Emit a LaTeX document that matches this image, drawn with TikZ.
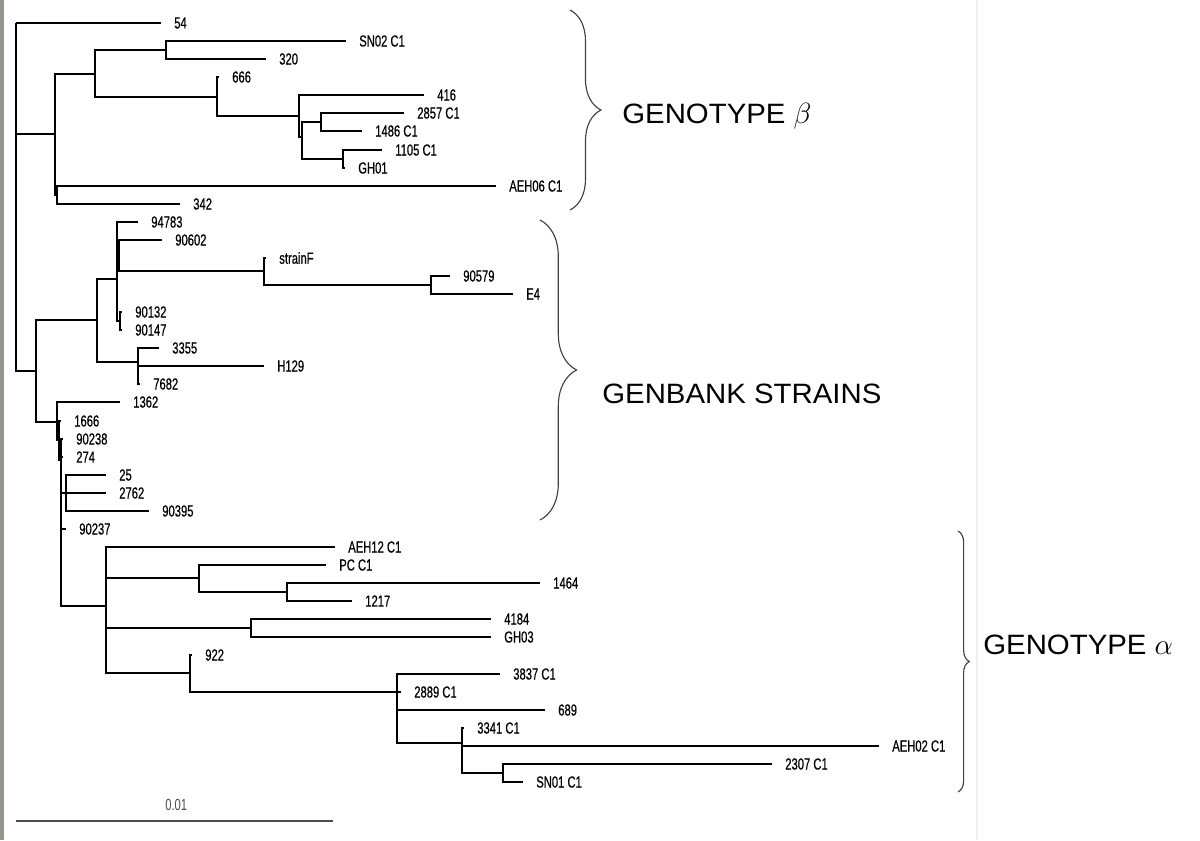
\documentclass[tikz,border=0pt]{standalone}
\usepackage{fontspec}
\usepackage{amsmath, amssymb}
\usetikzlibrary{positioning,decorations.pathreplacing}
\newfontfamily\leaffont[FakeStretch=0.7, FakeBold=0.5]{Liberation Sans}
\newfontfamily\barfont[FakeStretch=0.7]{Liberation Sans}
\newfontfamily\groupfont[FakeStretch=1.05]{Liberation Sans}
\definecolor{framegray}{RGB}{150,150,142}
\tikzset{
  branch/.style={line width=1.42pt},
  leaf/.style={font=\leaffont\fontsize{11.4}{13}\selectfont, inner sep=0pt},
  group/.style={font=\groupfont\fontsize{19.9}{23}\selectfont, inner sep=0pt, anchor=west},
  gbrace/.style={decorate, decoration={brace, amplitude=#1}, line width=0.8pt, draw=black!75},
  scalebar/.style={line width=1.42pt, draw=black!70}
}

\begin{document}
\begin{tikzpicture}[x=0.025cm, y=-0.025cm, node distance=9.25pt]
\useasboundingbox (0,0) rectangle (1200,840);
\fill[framegray] (0,0) rectangle (4,840);
\fill[black!6] (976,0) rectangle (978,840);

%beta
\coordinate (root) at (16,23);
\coordinate (b1) at (55,134);
\coordinate (b2) at (95,74);
\coordinate (b3) at (166,50);
\coordinate (b4) at (217,97);
\coordinate (b5) at (299,116);
\coordinate (b6) at (302,137);
\coordinate (b7) at (321,122);
\coordinate (b8) at (343,159);
\coordinate (b9) at (57,195);
\coordinate (l54) at (161,23);
\coordinate (lSN02) at (346,41);
\coordinate (l320) at (266,59);
\coordinate (l666) at (219,77);
\coordinate (l416) at (424,95);
\coordinate (l2857) at (404,113);
\coordinate (l1486) at (362,131);
\coordinate (l1105) at (382,150);
\coordinate (lGH01) at (345,168);
\coordinate (lAEH06) at (496,186);
\coordinate (l342) at (180,204);
\draw[branch]
  (root) -- (l54)
  (root) |- (b1)
  (b1) |- (b2) (b1) |- (b9)
  (b2) |- (b3) (b2) |- (b4)
  (b3) |- (lSN02) (b3) |- (l320)
  (b4) |- (l666) (b4) |- (b5)
  (b5) |- (l416) (b5) |- (b6)
  (b6) |- (b7) (b6) |- (b8)
  (b7) |- (l2857) (b7) |- (l1486)
  (b8) |- (l1105) (b8) |- (lGH01)
  (b9) |- (lAEH06) (b9) |- (l342);
\node[leaf, right=of l54] (t54) {54};
\node[leaf, right=of lSN02] (tSN02) {SN02 C1};
\node[leaf, right=of l320] (t320) {320};
\node[leaf, right=of l666] (t666) {666};
\node[leaf, right=of l416] (t416) {416};
\node[leaf, right=of l2857] (t2857) {2857 C1};
\node[leaf, right=of l1486] (t1486) {1486 C1};
\node[leaf, right=of l1105] (t1105) {1105 C1};
\node[leaf, right=of lGH01] (tGH01) {GH01};
\node[leaf, right=of lAEH06] (tAEH06) {AEH06 C1};
\node[leaf, right=of l342] (t342) {342};

%genbank
\coordinate (g0) at (36,371);
\coordinate (g1) at (97,320);
\coordinate (g2) at (117,279);
\coordinate (g3) at (119,256);
\coordinate (g4) at (264,271);
\coordinate (g5) at (431,285);
\coordinate (g6) at (120,321);
\coordinate (g7) at (138,362);
\coordinate (g8) at (57,422);
\coordinate (g9) at (59,440);
\coordinate (g10) at (61,460);
\coordinate (g11) at (66,493);
\coordinate (l94783) at (138,222);
\coordinate (l90602) at (162,240);
\coordinate (lstrainF) at (266,258);
\coordinate (l90579) at (450,276);
\coordinate (lE4) at (513,294);
\coordinate (l90132) at (122,312);
\coordinate (l90147) at (122,330);
\coordinate (l3355) at (159,348);
\coordinate (lH129) at (264,366);
\coordinate (l7682) at (140,384);
\coordinate (l1362) at (120,402);
\coordinate (l1666) at (61,421);
\coordinate (l90238) at (63,439);
\coordinate (l274) at (63,457);
\coordinate (l25) at (106,475);
\coordinate (l2762) at (106,493);
\coordinate (l90395) at (149,511);
\coordinate (l90237) at (66,529);
\draw[branch]
  (root) |- (g0)
  (g0) |- (g1) (g0) |- (g8)
  (g1) |- (g2) (g1) |- (g7)
  (g2) |- (l94783) (g2) |- (g3) (g2) |- (g6)
  (g3) |- (l90602) (g3) |- (g4)
  (g4) |- (lstrainF) (g4) |- (g5)
  (g5) |- (l90579) (g5) |- (lE4)
  (g6) |- (l90132) (g6) |- (l90147)
  (g7) |- (l3355) (g7) |- (lH129) (g7) |- (l7682)
  (g8) |- (l1362) (g8) |- (g9)
  (g9) |- (l1666) (g9) |- (g10)
  (g10) |- (l90238) (g10) |- (l274) (g10) |- (g11) (g10) |- (l90237)
  (g11) |- (l25) (g11) |- (l2762) (g11) |- (l90395);
\node[leaf, right=of l94783] (t94783) {94783};
\node[leaf, right=of l90602] (t90602) {90602};
\node[leaf, right=of lstrainF] (tstrainF) {strainF};
\node[leaf, right=of l90579] (t90579) {90579};
\node[leaf, right=of lE4] (tE4) {E4};
\node[leaf, right=of l90132] (t90132) {90132};
\node[leaf, right=of l90147] (t90147) {90147};
\node[leaf, right=of l3355] (t3355) {3355};
\node[leaf, right=of lH129] (tH129) {H129};
\node[leaf, right=of l7682] (t7682) {7682};
\node[leaf, right=of l1362] (t1362) {1362};
\node[leaf, right=of l1666] (t1666) {1666};
\node[leaf, right=of l90238] (t90238) {90238};
\node[leaf, right=of l274] (t274) {274};
\node[leaf, right=of l25] (t25) {25};
\node[leaf, right=of l2762] (t2762) {2762};
\node[leaf, right=of l90395] (t90395) {90395};
\node[leaf, right=of l90237] (t90237) {90237};

%alpha
\coordinate (a0) at (106,606);
\coordinate (a1) at (199,578);
\coordinate (a2) at (287,592);
\coordinate (a3) at (251,628);
\coordinate (a4) at (190,673);
\coordinate (a5) at (397,692);
\coordinate (a6) at (462,743);
\coordinate (a7) at (503,773);
\coordinate (lAEH12) at (335,547);
\coordinate (lPC) at (326,565);
\coordinate (l1464) at (540,583);
\coordinate (l1217) at (352,601);
\coordinate (l4184) at (491,619);
\coordinate (lGH03) at (491,637);
\coordinate (l922) at (192,655);
\coordinate (l3837) at (500,674);
\coordinate (l2889) at (401,692);
\coordinate (l689) at (545,710);
\coordinate (l3341) at (464,728);
\coordinate (lAEH02) at (879,746);
\coordinate (l2307) at (772,764);
\coordinate (lSN01) at (523,782);
\draw[branch]
  (g10) |- (a0)
  (a0) |- (lAEH12) (a0) |- (a1) (a0) |- (a3) (a0) |- (a4)
  (a1) |- (lPC) (a1) |- (a2)
  (a2) |- (l1464) (a2) |- (l1217)
  (a3) |- (l4184) (a3) |- (lGH03)
  (a4) |- (l922) (a4) |- (a5)
  (a5) |- (l3837) (a5) |- (l2889) (a5) |- (l689) (a5) |- (a6)
  (a6) |- (l3341) (a6) |- (lAEH02) (a6) |- (a7)
  (a7) |- (l2307) (a7) |- (lSN01);
\node[leaf, right=of lAEH12] (tAEH12) {AEH12 C1};
\node[leaf, right=of lPC] (tPC) {PC C1};
\node[leaf, right=of l1464] (t1464) {1464};
\node[leaf, right=of l1217] (t1217) {1217};
\node[leaf, right=of l4184] (t4184) {4184};
\node[leaf, right=of lGH03] (tGH03) {GH03};
\node[leaf, right=of l922] (t922) {922};
\node[leaf, right=of l3837] (t3837) {3837 C1};
\node[leaf, right=of l2889] (t2889) {2889 C1};
\node[leaf, right=of l689] (t689) {689};
\node[leaf, right=of l3341] (t3341) {3341 C1};
\node[leaf, right=of lAEH02] (tAEH02) {AEH02 C1};
\node[leaf, right=of l2307] (t2307) {2307 C1};
\node[leaf, right=of lSN01] (tSN01) {SN01 C1};

%scale
\coordinate (s0) at (16,821);
\coordinate (s1) at (333,821);
\draw[scalebar] (s0) -- (s1);
\node[inner sep=0pt, anchor=west, text=black!70, font=\barfont\fontsize{11.4}{13}\selectfont] (tscale) at (165,805) {0.01};

%groups
\coordinate (bb0) at (570,10);
\coordinate (bb1) at (570,210);
\draw[gbrace=22pt] (bb0) -- (bb1);
\node[group] (tbeta) at (622,116) {GENOTYPE $\beta$};
\coordinate (gb0) at (540,220);
\coordinate (gb1) at (540,520);
\draw[gbrace=26pt] (gb0) -- (gb1);
\node[group] (tgen) at (602,394) {GENBANK STRAINS};
\coordinate (ab0) at (958,531);
\coordinate (ab1) at (958,792);
\draw[gbrace=8pt] (ab0) -- (ab1);
\node[group] (talpha) at (983,645) {GENOTYPE $\alpha$};
\end{tikzpicture}
\end{document}
